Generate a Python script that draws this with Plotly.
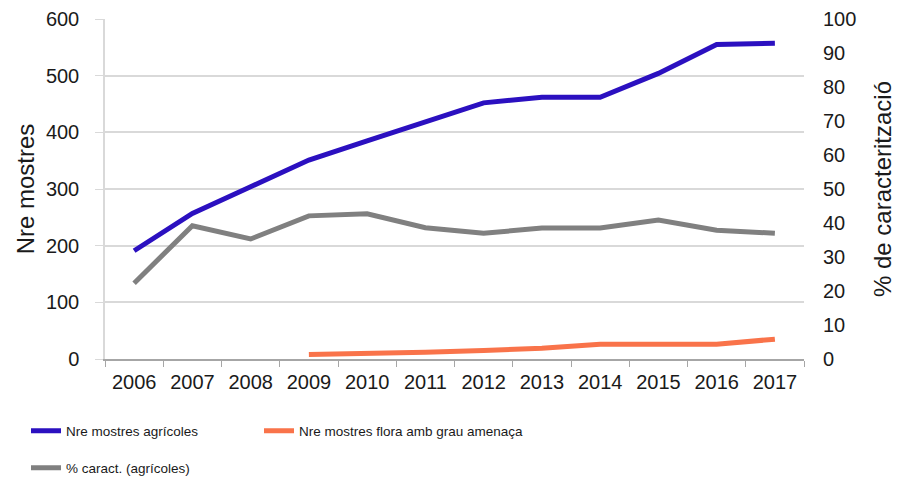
import plotly.graph_objects as go

anys = ['2006', '2007', '2008', '2009', '2010', '2011', '2012', '2013', '2014', '2015', '2016', '2017']
mostres_agricoles = [191, 257, 304, 351, 385, 419, 452, 462, 462, 504, 555, 557]
mostres_flora = [None, None, None, 8, 9, 12, 15, 19, 26, 26, 26, 35]
pct_caract = [22.3, 39.2, 35.3, 42.1, 42.7, 38.6, 37.0, 38.5, 38.5, 40.9, 37.9, 37.0]

font_txt = 'Liberation Sans, Arial, sans-serif'

fig = go.Figure()
fig.add_trace(go.Scatter(
      x=anys, y=mostres_agricoles, mode='lines', name='Nre mostres agrícoles',
      line=dict(color='#2B10C0', width=5), legend='legend'))
fig.add_trace(go.Scatter(
      x=anys, y=mostres_flora, mode='lines', name='Nre mostres flora amb grau amenaça',
      line=dict(color='#F9734A', width=5), legend='legend2'))
fig.add_trace(go.Scatter(
      x=anys, y=pct_caract, mode='lines', name='% caract. (agrícoles)',
      line=dict(color='#808080', width=5), yaxis='y2', legend='legend3'))

# llegendes col·locades respecte del contenidor (px / 906, px / 485)
leg = dict(orientation='h', xanchor='left', yanchor='middle', bgcolor='rgba(0,0,0,0)',
           xref='container', yref='container',
           font=dict(family=font_txt, size=13.5, color='#1a1a1a'))

fig.update_layout(
      width=906,
      height=485,
      showlegend=True,
      margin=dict(l=105, r=102, t=19, b=126, autoexpand=False),
      paper_bgcolor='white',
      plot_bgcolor='white',
      font=dict(family=font_txt, size=20, color='#1a1a1a'),
      xaxis=dict(
            type='category', range=[-0.5, 11.5], tickson='boundaries',
            ticks='outside', ticklen=6, tickcolor='#A6A6A6',
            showline=True, linecolor='#A6A6A6', linewidth=1.5,
            showgrid=False, tickfont=dict(size=20), ticklabelstandoff=4
      ),
      yaxis=dict(
            range=[0, 600], dtick=100, showgrid=True, gridcolor='#D9D9D9', gridwidth=1.5,
            showline=True, linecolor='#D9D9D9', linewidth=1.5,
            ticks='outside', ticklen=8, tickcolor='#D9D9D9',
            zeroline=False, tickfont=dict(size=20), ticklabelstandoff=12,
            title=dict(text='Nre mostres', font=dict(size=24), standoff=4)
      ),
      yaxis2=dict(
            range=[0, 100], dtick=10, overlaying='y', side='right', showgrid=False,
            showline=False, zeroline=False, ticks='', tickfont=dict(size=20),
            ticklabelstandoff=18,
            title=dict(text='% de caracterització', font=dict(size=24), standoff=18)
      ),
      legend=dict(leg, x=26 / 906, y=1 - 431 / 485),
      legend2=dict(leg, x=259 / 906, y=1 - 431 / 485),
      legend3=dict(leg, x=26 / 906, y=1 - 468 / 485),
)

fig.write_html("out.html", config={'displayModeBar': False},
               post_script="document.body.style.margin='0';")
